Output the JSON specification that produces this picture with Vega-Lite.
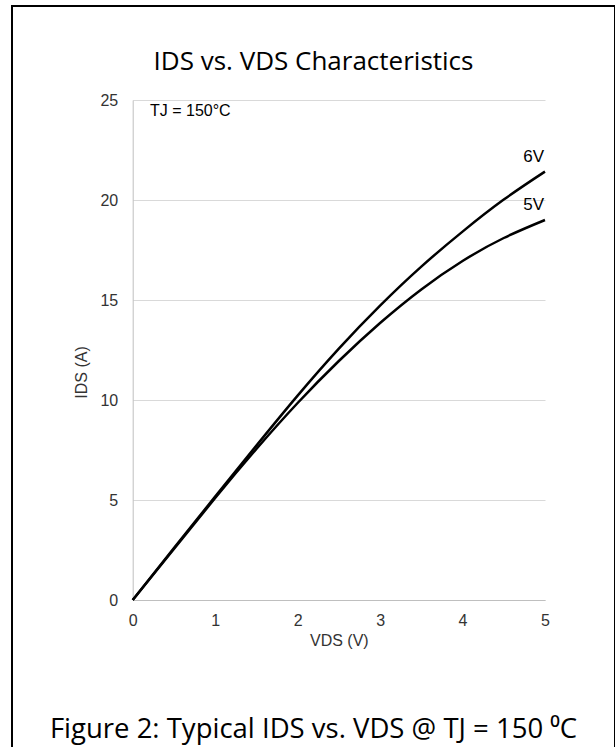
{
  "$schema": "https://vega.github.io/schema/vega-lite/v6.json",
  "width": 603,
  "height": 760,
  "autosize": {"type": "none"},
  "padding": {"left": 12, "top": 6, "right": 0, "bottom": 0},
  "background": "white",
  "config": {
    "view": {"stroke": "black", "strokeWidth": 2},
    "font": "Liberation Sans"
  },
  "title": {
    "text": "IDS vs. VDS Characteristics",
    "subtitle": "Figure 2: Typical IDS vs. VDS @ TJ = 150 ⁰C",
    "anchor": "middle",
    "frame": "group",
    "font": "Open Sans",
    "fontSize": 26,
    "fontWeight": "normal",
    "color": "#000000",
    "subtitleFont": "Open Sans",
    "subtitleFontSize": 27.5,
    "subtitleColor": "#000000",
    "subtitlePadding": 641,
    "offset": -737
  },
  "datasets": {
    "curves": [
      {"series": "6V", "V": 0, "I": 0},
      {"series": "6V", "V": 0.5, "I": 2.6},
      {"series": "6V", "V": 1, "I": 5.17},
      {"series": "6V", "V": 1.5, "I": 7.72},
      {"series": "6V", "V": 2, "I": 10.22},
      {"series": "6V", "V": 2.5, "I": 12.57},
      {"series": "6V", "V": 3, "I": 14.72},
      {"series": "6V", "V": 3.5, "I": 16.67},
      {"series": "6V", "V": 4, "I": 18.42},
      {"series": "6V", "V": 4.5, "I": 20.02},
      {"series": "6V", "V": 5, "I": 21.42},
      {"series": "5V", "V": 0, "I": 0},
      {"series": "5V", "V": 0.5, "I": 2.55},
      {"series": "5V", "V": 1, "I": 5.1},
      {"series": "5V", "V": 1.5, "I": 7.55},
      {"series": "5V", "V": 2, "I": 9.85},
      {"series": "5V", "V": 2.5, "I": 11.95},
      {"series": "5V", "V": 3, "I": 13.85},
      {"series": "5V", "V": 3.5, "I": 15.53},
      {"series": "5V", "V": 4, "I": 16.95},
      {"series": "5V", "V": 4.5, "I": 18.1},
      {"series": "5V", "V": 5, "I": 19.0}
    ]
  },
  "layer": [
    {
      "data": {"name": "curves"},
      "mark": {"type": "line", "color": "#000000", "strokeWidth": 2.5, "interpolate": "natural"},
      "encoding": {
        "x": {
          "field": "V",
          "type": "quantitative",
          "scale": {"domain": [0, 5], "range": [120.7, 533], "nice": false, "zero": false},
          "axis": {
            "orient": "bottom",
            "offset": -166,
            "values": [0, 1, 2, 3, 4, 5],
            "format": "d",
            "ticks": false,
            "grid": false,
            "domainColor": "#bfbfbf",
            "domainWidth": 1,
            "labelFont": "Liberation Sans",
            "labelFontSize": 16,
            "labelColor": "#333333",
            "labelPadding": 12,
            "labelFlush": false,
            "title": "VDS (V)",
            "titleFont": "Liberation Sans",
            "titleFontSize": 16,
            "titleFontWeight": "normal",
            "titleColor": "#333333",
            "titlePadding": 4
          }
        },
        "y": {
          "field": "I",
          "type": "quantitative",
          "scale": {"domain": [0, 25], "range": [594, 94], "nice": false, "zero": false},
          "axis": {
            "orient": "left",
            "offset": -120.7,
            "values": [0, 5, 10, 15, 20, 25],
            "format": "d",
            "ticks": false,
            "grid": true,
            "gridColor": "#d9d9d9",
            "gridWidth": 1,
            "domainColor": "#bfbfbf",
            "domainWidth": 1,
            "labelFont": "Liberation Sans",
            "labelFontSize": 16,
            "labelColor": "#333333",
            "labelPadding": 15,
            "title": "IDS (A)",
            "titleFont": "Liberation Sans",
            "titleFontSize": 16,
            "titleFontWeight": "normal",
            "titleColor": "#333333",
            "titlePadding": 10,
            "titleY": 366
          }
        },
        "detail": {"field": "series", "type": "nominal"}
      }
    },
    {
      "data": {"name": "curves"},
      "transform": [{"filter": "datum.V == 5"}],
      "mark": {"type": "text", "align": "right", "baseline": "middle", "dx": -1, "dy": -15, "fontSize": 17, "font": "Liberation Sans", "color": "#000000"},
      "encoding": {
        "x": {"field": "V", "type": "quantitative"},
        "y": {"field": "I", "type": "quantitative"},
        "text": {"field": "series", "type": "nominal"}
      }
    },
    {
      "data": {"values": [{"note": "TJ = 150°C"}]},
      "mark": {"type": "text", "align": "left", "baseline": "middle", "fontSize": 16, "font": "Liberation Sans", "color": "#000000"},
      "encoding": {
        "x": {"datum": 0.21},
        "y": {"datum": 24.45},
        "text": {"field": "note", "type": "nominal"}
      }
    }
  ]
}
